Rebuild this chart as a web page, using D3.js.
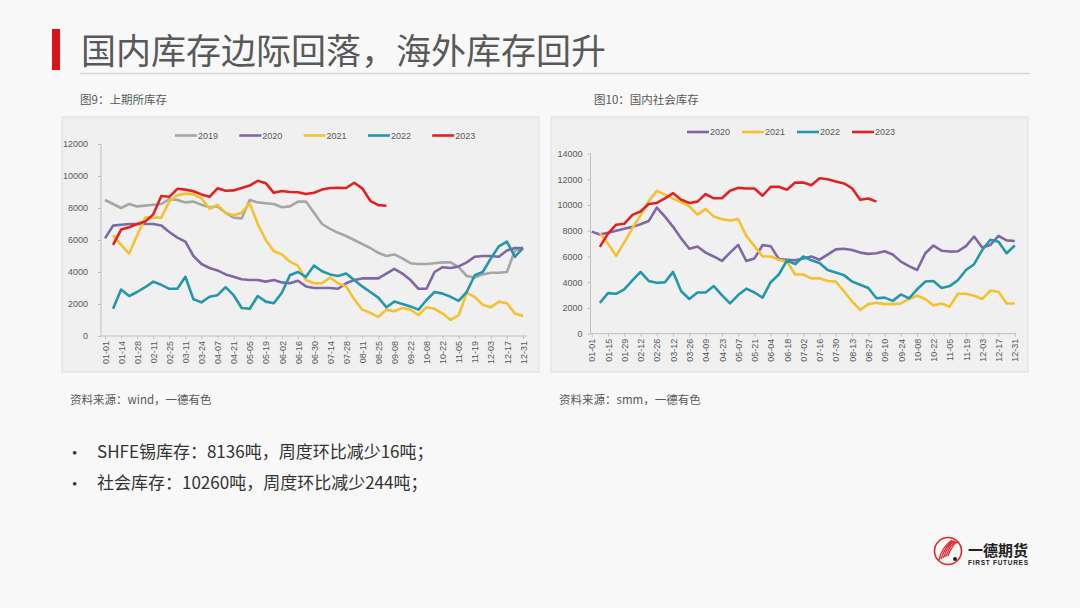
<!DOCTYPE html>
<meta charset="utf-8">
<style>
body { margin: 0; background: #f8f8f8; }
svg { display: block; }
.axis text { font: 9px "Liberation Sans", Arial, sans-serif; fill: #595959; }
.axis path, .axis line { stroke: #bfbfbf; }
.lg text { font: 9px "Liberation Sans", Arial, sans-serif; fill: #595959; }
.cn { font-family: "Noto Sans CJK SC", "Noto Sans", sans-serif; }
</style>
<svg width="1080" height="608"></svg>
<script src="https://d3js.org/d3.v7.min.js"></script>
<script>

// week categories of the two charts
var shfeDates = ["01-01","01-07","01-14","01-21","01-28","02-04","02-11","02-18","02-25","03-04",
  "03-11","03-17","03-24","03-31","04-07","04-14","04-21","04-28","05-05","05-12",
  "05-19","05-26","06-02","06-09","06-16","06-23","06-30","07-07","07-14","07-21",
  "07-28","08-04","08-11","08-18","08-25","09-01","09-08","09-15","09-22","09-29",
  "10-08","10-15","10-22","10-29","11-05","11-12","11-19","11-26","12-03","12-10",
  "12-17","12-24","12-31"];
var socDates = ["01-01","01-08","01-15","01-22","01-29","02-05","02-12","02-19","02-26","03-05",
  "03-12","03-19","03-26","04-02","04-09","04-16","04-23","04-30","05-07","05-14",
  "05-21","05-28","06-04","06-11","06-18","06-25","07-02","07-09","07-16","07-23",
  "07-30","08-06","08-13","08-20","08-27","09-03","09-10","09-17","09-24","10-01",
  "10-08","10-15","10-22","10-29","11-05","11-12","11-19","11-26","12-03","12-10",
  "12-17","12-24","12-31"];

// 图9 上期所库存 (吨)
var shfe2019 = [8500,8250,8000,8250,8100,8150,8200,8250,8550,8500,8350,8400,8200,8050,8100,7700,7400,7350,8500,8350,
  8300,8250,8050,8100,8400,8400,7700,7000,6700,6450,6250,6000,5750,5500,5200,5000,5100,4850,4550,4500,
  4500,4550,4600,4600,4300,3750,3650,3850,3950,3950,4000,5350,5450];
var shfe2020 = [6100,6900,6950,7000,7000,7000,7000,6900,6500,6150,5900,5000,4500,4250,4100,3850,3700,3550,3500,3500,
  3400,3500,3350,3300,3450,3100,3000,3000,3000,2950,3300,3500,3600,3600,3600,3900,4200,3900,3500,2950,
  2950,4000,4300,4250,4350,4600,4950,5000,5000,4950,5350,5500,5500];
var shfe2021 = [null,6300,5700,5150,6300,7400,7400,7400,8400,8800,8900,8850,8600,7950,8200,7700,7550,7700,8300,7000,
  6000,5300,5100,4650,4400,3500,3300,3300,3650,3300,3100,2300,1650,1450,1200,1650,1550,1750,1650,1300,
  1800,1700,1400,1000,1300,2700,2450,1950,1800,2150,2050,1400,1250];
var shfe2022 = [null,1700,2900,2500,2750,3050,3400,3200,2950,2950,3700,2300,2100,2450,2550,3050,2550,1750,1700,2500,
  2150,2050,2700,3800,4000,3700,4400,4050,3850,3750,3900,3500,3100,2750,2400,1800,2150,2000,1850,1650,
  2250,2750,2650,2450,2200,2750,3800,4000,4850,5600,5900,4950,5500];
var shfe2023 = [null,5700,6650,6800,7000,7150,7600,8750,8700,9200,9150,9050,8850,8700,9230,9080,9100,9250,9400,9700,
  9550,8950,9060,9000,8980,8870,8950,9150,9250,9270,9250,9580,9230,8450,8180,8136];

// 图10 国内社会库存 (吨)
var soc2020 = [7930,7700,7850,8000,8150,8300,8500,8750,9800,9100,8300,7400,6600,6780,6300,6000,5650,6300,6900,5650,
  5850,6880,6800,5800,5750,5700,5850,6000,5750,6150,6550,6600,6500,6300,6200,6250,6400,6150,5600,5250,
  4950,6250,6850,6450,6380,6400,6800,7550,6700,6900,7600,7250,7200];
var soc2021 = [null,7800,7000,6050,7100,8200,9200,10300,11100,10800,10500,10200,9900,9250,9700,9100,8900,8800,8900,7600,
  6800,6000,6000,5750,5600,4600,4600,4300,4300,4100,4050,3300,2500,1850,2300,2400,2300,2300,2350,2700,
  2950,2700,2200,2350,2100,3100,3100,2950,2700,3350,3250,2350,2350];
var soc2022 = [null,2400,3150,3100,3450,4150,4800,4100,3950,4000,4800,3300,2700,3200,3200,3700,3000,2350,3000,3500,
  3200,2800,4000,4600,5700,5400,6000,5700,5500,4950,4750,4550,4050,3800,3550,2750,2800,2550,3050,2750,
  3450,4050,4100,3550,3700,4150,4950,5400,6500,7300,7150,6250,6850];
var soc2023 = [null,6750,7780,8470,8540,9230,9490,10080,10160,10520,10920,10410,10160,10260,10850,10520,10520,11100,11330,11280,
  11280,10720,11410,11410,11180,11740,11740,11540,12080,12000,11820,11670,11300,10400,10500,10260];

var shfeTicks = [0,2000,4000,6000,8000,10000,12000];
var socTicks = [0,2000,4000,6000,8000,10000,12000,14000];

var colors = {"2019": "#a6a6a6", "2020": "#7f68a6", "2021": "#f5c12e", "2022": "#2397ab", "2023": "#e02322"};

var svg = d3.select("svg");

svg.append("rect").attr("width", 1080).attr("height", 608).attr("fill", "#f8f8f8");

// title
svg.append("rect").attr("x", 52).attr("y", 29).attr("width", 8).attr("height", 41).attr("fill", "#d9141b");
svg.append("text").attr("class", "cn").attr("x", 81).attr("y", 64)
    .attr("font-size", 35).attr("fill", "#595959")
    .text("国内库存边际回落，海外库存回升");
svg.append("line").attr("x1", 80).attr("x2", 1030).attr("y1", 73.5).attr("y2", 73.5)
    .attr("stroke", "#d6d6d6").attr("stroke-width", 1.5);

function drawChart(o) {
  var g = svg.append("g");

  g.append("text").attr("class", "cn").attr("x", o.titleX).attr("y", 104)
      .attr("font-size", 11.5).attr("fill", "#595959").text(o.title);

  g.append("rect").attr("x", o.panel[0]).attr("y", 117).attr("width", o.panel[1]).attr("height", 255)
      .attr("fill", "#f0f0f0").attr("stroke", "#dedede");

  g.append("text").attr("class", "cn").attr("x", o.panel[0] + 8).attr("y", 404)
      .attr("font-size", 11.5).attr("fill", "#595959").text(o.source);

  var x = d3.scalePoint().domain(o.dates).range(o.xr).padding(o.pad);
  var y = d3.scaleLinear().domain([0, o.ticks[o.ticks.length - 1]]).range(o.yr);

  g.append("g").attr("class", "axis")
      .attr("transform", "translate(" + o.xr[0] + ",0)")
      .call(d3.axisLeft(y).tickValues(o.ticks).tickFormat(d3.format("d"))
        .tickSize(3).tickSizeOuter(0).tickPadding(o.yPad))
      .call(function(a) { a.select(".domain").attr("d", "M0," + o.yr[1] + "V" + o.yr[0]); });

  var xa = g.append("g").attr("class", "axis")
      .attr("transform", "translate(0," + o.yr[0] + ")")
      .call(d3.axisBottom(x).tickValues(o.dates.filter(function(d, i) { return i % 2 === 0; }))
        .tickSize(3).tickSizeOuter(0));
  xa.select(".domain").attr("d", "M" + o.xr[0] + ",0H" + o.xr[1]);
  xa.selectAll(".tick text")
      .attr("transform", "rotate(-90)")
      .attr("text-anchor", "end")
      .attr("x", -5).attr("y", 0).attr("dy", "0.35em");

  var line = d3.line()
      .defined(function(d) { return d.v != null; })
      .x(function(d) { return x(d.k); })
      .y(function(d) { return y(d.v); });

  o.series.forEach(function(s) {
    var pts = o.dates.map(function(k, i) { return {k: k, v: s.values[i] == null ? null : s.values[i]}; });
    g.append("path").datum(pts)
        .attr("fill", "none")
        .attr("stroke", colors[s.name])
        .attr("stroke-width", 2.6)
        .attr("stroke-linejoin", "round")
        .attr("d", line);
  });

  var lg = g.append("g").attr("class", "lg");
  o.series.forEach(function(s, i) {
    var lx = o.legend[0] + i * o.legend[2];
    lg.append("line").attr("x1", lx).attr("x2", lx + 22)
        .attr("y1", o.legend[1]).attr("y2", o.legend[1])
        .attr("stroke", colors[s.name]).attr("stroke-width", 2.6);
    lg.append("text").attr("x", lx + 23).attr("y", o.legend[1] + 3.3).text(s.name);
  });
}

drawChart({
  title: "图9：上期所库存", titleX: 80, source: "资料来源：wind，一德有色",
  panel: [62, 477], dates: shfeDates, ticks: shfeTicks,
  xr: [101, 527], pad: 0.5, yr: [336, 144], yPad: 10,
  legend: [175, 135.5, 64.3],
  series: [
    {name: "2019", values: shfe2019},
    {name: "2020", values: shfe2020},
    {name: "2021", values: shfe2021},
    {name: "2022", values: shfe2022},
    {name: "2023", values: shfe2023}
  ]
});

drawChart({
  title: "图10：国内社会库存", titleX: 594, source: "资料来源：smm，一德有色",
  panel: [551, 477], dates: socDates, ticks: socTicks,
  xr: [590.5, 1016], pad: 0.15, yr: [333.7, 153.5], yPad: 5,
  legend: [687, 132, 55],
  series: [
    {name: "2020", values: soc2020},
    {name: "2021", values: soc2021},
    {name: "2022", values: soc2022},
    {name: "2023", values: soc2023}
  ]
});

// bullet notes
var notes = ["SHFE锡库存：8136吨，周度环比减少16吨；", "社会库存：10260吨，周度环比减少244吨；"];
notes.forEach(function(t, i) {
  svg.append("text").attr("x", 72).attr("y", 458 + i * 31).attr("font-size", 15)
      .attr("fill", "#333").text("•");
  svg.append("text").attr("class", "cn").attr("x", 97).attr("y", 458 + i * 31)
      .attr("font-size", 17).attr("fill", "#333").text(t);
});

// logo
var logo = svg.append("g").attr("transform", "translate(948,551)");
logo.append("circle").attr("r", 13.5).attr("fill", "none").attr("stroke", "#e0262b").attr("stroke-width", 1.6);
[0, 1, 2, 3, 4].forEach(function(i) {
  logo.append("path")
      .attr("d", "M" + (-9 + i * 2.2) + "," + (9 - i) + " Q" + (-6 + i * 3) + "," + (-4 - i * 1.5) + " " + (4 + i * 1.6) + "," + (-11 + i * 0.6))
      .attr("fill", "none").attr("stroke", "#e0262b").attr("stroke-width", 1.3);
});
logo.append("circle").attr("cx", 7).attr("cy", 8).attr("r", 2).attr("fill", "#222");
svg.append("text").attr("class", "cn").attr("x", 968).attr("y", 556)
    .attr("font-size", 15).attr("font-weight", "bold").attr("fill", "#222").text("一德期货");
svg.append("text").attr("x", 968).attr("y", 564.5)
    .attr("font-family", "Liberation Sans, Arial, sans-serif")
    .attr("font-size", 6.5).attr("font-weight", "bold").attr("fill", "#222")
    .attr("textLength", 60).attr("lengthAdjust", "spacing").text("FIRST FUTURES");

</script>
